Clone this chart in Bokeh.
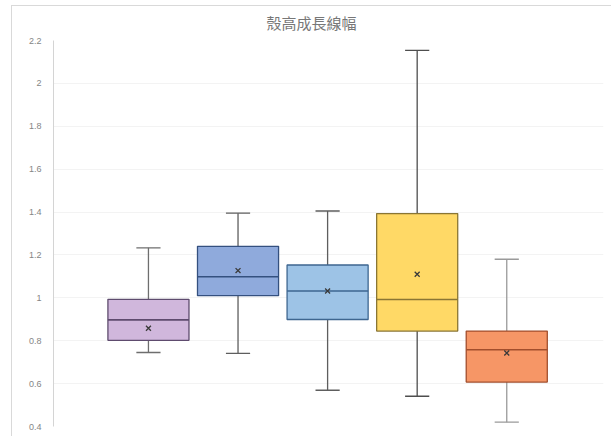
from bokeh.plotting import figure
from bokeh.models import Range1d, FixedTicker
from bokeh.embed import file_html
from bokeh.resources import INLINE

# Five-number summaries and means of shell growth width, one box per group
positions = [1, 2, 3, 4, 5]
q_min = [0.745, 0.741, 0.569, 0.541, 0.420]
q1 = [0.802, 1.010, 0.899, 0.845, 0.607]
median = [0.897, 1.098, 1.032, 0.992, 0.758]
q3 = [0.993, 1.240, 1.153, 1.393, 0.845]
q_max = [1.233, 1.395, 1.405, 2.154, 1.180]
mean = [0.858, 1.127, 1.032, 1.110, 0.743]

fill_colors = ["#D0B7DC", "#8FAADC", "#9DC3E6", "#FFD966", "#F69666"]
edge_colors = ["#5E4B6E", "#34507F", "#3E6690", "#8A7634", "#A24E2C"]
whisker_colors = ["#6E6E6E", "#5E5E5E", "#5E5E5E", "#4E4E4E", "#9A9A9A"]

y_ticks = [0.4, 0.6, 0.8, 1.0, 1.2, 1.4, 1.6, 1.8, 2.0, 2.2]
y_tick_labels = ["0.4", "0.6", "0.8", "1", "1.2", "1.4", "1.6", "1.8", "2", "2.2"]

chart_title = "殼高成長線幅"

BOX_W = 0.905
CAP_W = 0.27

p = figure(
    width=600, height=431,
    output_backend="svg", toolbar_location=None,
    x_range=Range1d(-0.06, 6.08), y_range=Range1d(0.4, 2.2),
    min_border_left=41, min_border_right=9, min_border_top=34, min_border_bottom=11,
    title=chart_title,
)
p.margin = (5, 0, 0, 11)
p.styles = {"border-left": "1px solid #d9d9d9", "border-top": "1px solid #d9d9d9"}

# title sits centred over the whole chart area, so place it from the left edge
p.title.align = "left"
p.title.offset = 213
p.title.vertical_align = "top"
p.title.text_font = "Liberation Sans, Noto Sans CJK TC"
p.title.text_font_size = "15px"
p.title.text_font_style = "normal"
p.title.text_color = "#777777"
p.title.standoff = 13

p.outline_line_color = None
p.background_fill_color = "white"
p.border_fill_color = "white"

p.xaxis.visible = False
p.xgrid.grid_line_color = None
p.ygrid.grid_line_color = "#f3f3f3"
p.ygrid.ticker = FixedTicker(ticks=y_ticks)

ax = p.yaxis[0]
ax.ticker = FixedTicker(ticks=y_ticks)
ax.major_label_overrides = {t: s for t, s in zip(y_ticks, y_tick_labels)}
ax.axis_line_color = "#d4d4d4"
ax.major_tick_line_color = None
ax.minor_tick_line_color = None
ax.major_label_text_font = "Liberation Sans"
ax.major_label_text_font_size = "9px"
ax.major_label_text_color = "#858585"
ax.major_label_standoff = 6

half_box = [BOX_W / 2] * len(positions)
half_cap = [CAP_W / 2] * len(positions)
left = [x - h for x, h in zip(positions, half_box)]
right = [x + h for x, h in zip(positions, half_box)]
cap_l = [x - h for x, h in zip(positions, half_cap)]
cap_r = [x + h for x, h in zip(positions, half_cap)]

# whiskers and caps
p.segment(positions, q3, positions, q_max, line_color=whisker_colors, line_width=1.3)
p.segment(positions, q1, positions, q_min, line_color=whisker_colors, line_width=1.3)
p.segment(cap_l, q_max, cap_r, q_max, line_color=whisker_colors, line_width=1.3)
p.segment(cap_l, q_min, cap_r, q_min, line_color=whisker_colors, line_width=1.3)

# boxes
p.vbar(x=positions, width=BOX_W, bottom=q1, top=q3,
       fill_color=fill_colors, line_color=edge_colors, line_width=1.3)

# medians
p.segment(left, median, right, median, line_color=edge_colors, line_width=1.6)

# means
p.scatter(positions, mean, marker="x", size=7, line_color="#3a3a3a", line_width=1.3)

open("out.html", "w").write(file_html(p, INLINE))
